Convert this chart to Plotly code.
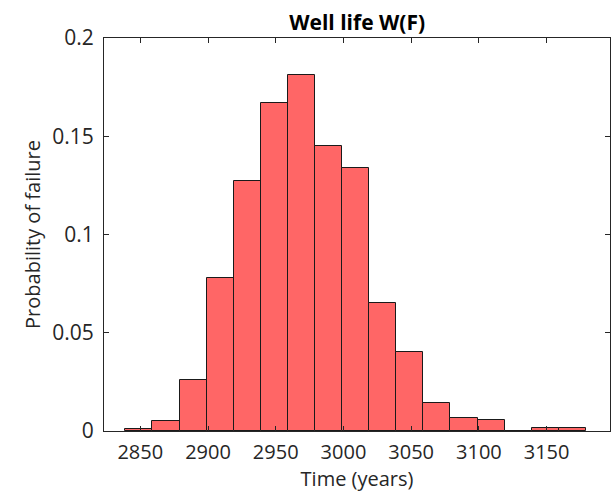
import plotly.graph_objects as go

# Histogram of well life (time to failure)
bin_edges = [2839, 2859, 2879, 2899, 2919, 2939, 2959, 2979, 2999, 3019,
             3039, 3059, 3079, 3099, 3119, 3139, 3159, 3179]
probability = [0.001, 0.005, 0.026, 0.078, 0.127, 0.167, 0.181, 0.145, 0.134,
               0.065, 0.040, 0.014, 0.0065, 0.0057, 0.0, 0.0017, 0.0017]
x_ticks = [2850, 2900, 2950, 3000, 3050, 3100, 3150]
y_ticks = [0, 0.05, 0.1, 0.15, 0.2]
y_tick_text = ["0", "0.05", "0.1", "0.15", "0.2"]

centers = [(a + b) / 2 for a, b in zip(bin_edges[:-1], bin_edges[1:])]
widths = [b - a for a, b in zip(bin_edges[:-1], bin_edges[1:])]

FONT = "Open Sans"
AX = "#262626"

fig = go.Figure()
fig.add_trace(go.Bar(
    x=centers, y=probability, width=widths,
    marker=dict(color="#FF6666", line=dict(color="#1a1a1a", width=1)),
    hoverinfo="x+y",
))

fig.update_layout(
    width=612, height=492,
    margin=dict(l=104, r=2, t=38, b=61, pad=0),
    paper_bgcolor="white", plot_bgcolor="white",
    showlegend=False,
    bargap=0,
    title=dict(text="<b>Well life W(F)</b>", x=0.5836, xanchor="center",
               y=1 - 23 / 492, yanchor="middle", yref="container",
               font=dict(family=FONT, size=21, color="#000000")),
    font=dict(family=FONT, color=AX),
)
fig.update_xaxes(
    range=[2823.2, 3196.8], tickvals=x_ticks,
    ticks="inside", ticklen=5, tickwidth=1, tickcolor=AX,
    showline=True, linecolor=AX, linewidth=1, mirror="ticks",
    showgrid=False, zeroline=False, ticklabelstandoff=3,
    tickfont=dict(family=FONT, size=20, color=AX),
    title=dict(text="Time (years)", font=dict(family=FONT, size=20, color=AX), standoff=4),
)
fig.update_yaxes(
    range=[0, 0.2], tickvals=y_ticks, ticktext=y_tick_text,
    ticks="inside", ticklen=5, tickwidth=1, tickcolor=AX,
    showline=True, linecolor=AX, linewidth=1, mirror="ticks",
    showgrid=False, zeroline=False, ticklabelstandoff=5,
    tickfont=dict(family=FONT, size=21, color=AX),
    title=dict(text="Probability of failure", font=dict(family=FONT, size=20, color=AX), standoff=6),
)

fig.write_html("out.html")
